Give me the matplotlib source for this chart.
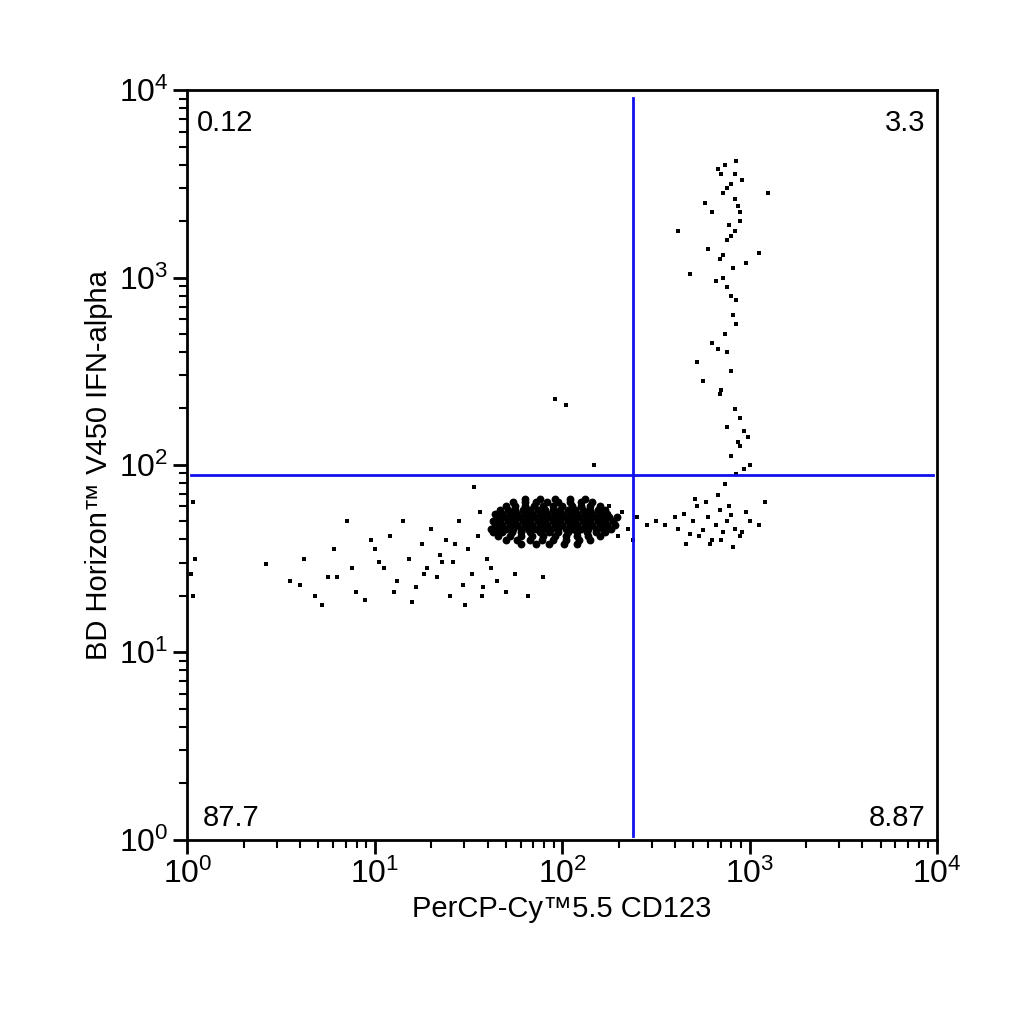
import matplotlib
matplotlib.use("Agg")
import matplotlib.pyplot as plt
from matplotlib.ticker import LogLocator, NullFormatter

plt.rcParams['font.family'] = ['Liberation Sans', 'DejaVu Sans']

# log10 coordinates of events
core_rows = {
    1.58: [1.78, 1.86, 1.93, 2.01, 2.08],
    1.60: [1.70, 1.76, 1.83, 1.89, 1.95, 2.02, 2.09, 2.15],
    1.62: [1.66, 1.72, 1.78, 1.84, 1.90, 1.96, 2.02, 2.08, 2.14, 2.20],
    1.64: [1.63, 1.68, 1.73, 1.78, 1.83, 1.88, 1.93, 1.98, 2.03, 2.08, 2.13, 2.18, 2.23],
    1.66: [1.62, 1.66, 1.70, 1.74, 1.78, 1.82, 1.86, 1.90, 1.94, 1.98, 2.02, 2.06, 2.10, 2.14, 2.18, 2.22, 2.26],
    1.68: [1.64, 1.68, 1.72, 1.76, 1.80, 1.84, 1.88, 1.92, 1.96, 2.00, 2.04, 2.08, 2.12, 2.16, 2.20, 2.24, 2.28],
    1.70: [1.63, 1.67, 1.71, 1.75, 1.79, 1.83, 1.87, 1.91, 1.95, 1.99, 2.03, 2.07, 2.11, 2.15, 2.19, 2.23, 2.27],
    1.72: [1.65, 1.69, 1.73, 1.77, 1.81, 1.85, 1.89, 1.93, 1.97, 2.01, 2.05, 2.09, 2.13, 2.17, 2.21, 2.25, 2.29],
    1.74: [1.64, 1.68, 1.72, 1.76, 1.80, 1.84, 1.88, 1.92, 1.96, 2.00, 2.04, 2.08, 2.12, 2.16, 2.20, 2.24],
    1.76: [1.67, 1.71, 1.75, 1.79, 1.83, 1.87, 1.91, 1.95, 1.99, 2.03, 2.07, 2.11, 2.15, 2.19, 2.23],
    1.78: [1.70, 1.75, 1.80, 1.85, 1.90, 1.95, 2.00, 2.05, 2.10, 2.15, 2.20],
    1.80: [1.74, 1.80, 1.86, 1.92, 1.98, 2.04, 2.10, 2.16],
    1.82: [1.80, 1.88, 1.96, 2.04, 2.12],
}

sparse_x = [0.03, 0.02, 0.04, 0.03, 0.42, 0.55, 0.62, 0.68, 0.72, 0.60, 0.78, 0.85, 0.80, 0.90, 0.95, 1.00,
            1.05, 1.08, 1.12, 1.15, 1.18, 1.22, 1.25, 1.28, 1.30, 1.33, 1.35, 1.38, 1.40, 1.42, 1.45, 1.47,
            1.50, 1.52, 1.55, 1.57, 1.60, 1.62, 1.48, 1.43, 1.36, 1.26, 1.20, 1.10, 1.02, 0.98, 0.88, 0.75,
            1.58, 1.56, 1.53, 1.65, 1.70, 1.75, 1.82, 1.90, 2.28, 2.32, 2.35, 2.40, 2.45, 2.38, 2.30, 2.25,
            1.96, 2.02, 2.17,
            2.50, 2.55, 2.60, 2.62, 2.65, 2.68, 2.70, 2.72, 2.75, 2.78, 2.80, 2.82, 2.84, 2.86, 2.88, 2.90,
            2.92, 2.95, 2.98, 3.00, 3.05, 3.08, 2.66, 2.73, 2.79, 2.85, 2.91, 2.96, 2.71, 2.77, 2.83, 2.89,
            2.87, 2.90, 2.93, 2.95, 2.88, 2.92, 2.85, 2.90, 2.97, 2.83, 2.87, 2.91,
            2.90, 2.88, 2.93, 2.86, 2.84, 2.91, 2.82, 2.78, 2.88, 2.95, 2.92, 2.80, 2.76, 2.86, 2.94,
            2.90, 2.85, 2.88, 2.92, 2.87, 2.83, 2.93, 2.96, 2.89, 2.80, 2.75, 2.62, 2.68, 2.72, 3.10, 3.05,
            2.92, 2.95, 2.90, 2.86, 2.98, 2.93, 2.88, 2.84, 2.95, 2.99, 3.00, 2.97, 2.94]
sparse_y = [1.30, 1.42, 1.50, 1.80, 1.47, 1.38, 1.50, 1.30, 1.25, 1.36, 1.55, 1.70, 1.40, 1.32, 1.28, 1.55,
            1.45, 1.62, 1.38, 1.70, 1.50, 1.35, 1.58, 1.45, 1.66, 1.40, 1.52, 1.60, 1.30, 1.48, 1.70, 1.36,
            1.55, 1.42, 1.62, 1.30, 1.50, 1.45, 1.25, 1.58, 1.48, 1.42, 1.27, 1.32, 1.48, 1.60, 1.45, 1.40,
            1.35, 1.75, 1.88, 1.38, 1.32, 1.42, 1.30, 1.40, 1.70, 1.75, 1.66, 1.72, 1.68, 1.60, 1.62, 1.78,
            2.35, 2.32, 2.00,
            1.70, 1.68, 1.72, 1.66, 1.74, 1.63, 1.70, 1.78, 1.65, 1.72, 1.60, 1.68, 1.76, 1.64, 1.70, 1.73,
            1.66, 1.62, 1.75, 1.70, 1.68, 1.80, 1.58, 1.62, 1.58, 1.60, 1.56, 1.64, 1.82, 1.80, 1.84, 1.78,
            1.90, 2.05, 1.95, 2.10, 2.20, 2.30, 2.40, 2.50, 2.18, 2.62, 2.70, 2.80,
            2.90, 2.95, 2.88, 3.00, 3.10, 3.05, 2.98, 3.15, 3.20, 3.30, 3.25, 3.35, 3.40, 3.45, 3.38,
            3.50, 3.55, 3.48, 3.42, 3.60, 3.58, 3.62, 3.52, 3.28, 2.65, 2.45, 3.25, 3.02, 2.55, 3.45, 3.13,
            3.55, 3.35, 3.22, 3.12, 3.08, 2.75, 2.60, 2.38, 2.25, 2.15, 2.00, 1.98, 2.12]

x_thresh = 240
y_thresh = 88.5
quad_labels = ["0.12", "3.3", "87.7", "8.87"]

xs, ys = [], []
for yv, row in core_rows.items():
    for xv in row:
        xs.append(10 ** xv); ys.append(10 ** yv)
sx = [10 ** v for v in sparse_x]
sy = [10 ** v for v in sparse_y]

fig = plt.figure(figsize=(10.24, 10.24), dpi=100)
ax = fig.add_axes([0.183, 0.180, 0.732, 0.732])
ax.scatter(xs, ys, s=32, c="black", marker="o", linewidths=0)
ax.scatter(sx, sy, s=9, c="black", marker="s", linewidths=0)
ax.set_xscale("log"); ax.set_yscale("log")
ax.set_xlim(1, 1e4); ax.set_ylim(1, 1e4)
ax.axvline(x_thresh, ymin=0.005, ymax=0.99, color="#1010ee", lw=2)
ax.axhline(y_thresh, xmin=0.005, xmax=0.995, color="#1010ee", lw=2)
for s in ax.spines.values():
    s.set_linewidth(2)
ax.xaxis.set_minor_locator(LogLocator(subs=range(2, 10)))
ax.yaxis.set_minor_locator(LogLocator(subs=range(2, 10)))
ax.xaxis.set_minor_formatter(NullFormatter()); ax.yaxis.set_minor_formatter(NullFormatter())
ax.tick_params(which="major", length=10, width=2, labelsize=23, direction="out")
ax.tick_params(which="minor", length=6, width=1.5, direction="out")
ax.set_xlabel("PerCP-Cy™5.5 CD123", fontsize=21)
ax.set_ylabel("BD Horizon™ V450 IFN-alpha", fontsize=21)
kw = dict(transform=ax.transAxes, fontsize=21)
ax.text(0.013, 0.975, quad_labels[0], va="top", ha="left", **kw)
ax.text(0.985, 0.975, quad_labels[1], va="top", ha="right", **kw)
ax.text(0.02, 0.01, quad_labels[2], va="bottom", ha="left", **kw)
ax.text(0.985, 0.01, quad_labels[3], va="bottom", ha="right", **kw)
fig.savefig("out.png", dpi=100, facecolor="white")
